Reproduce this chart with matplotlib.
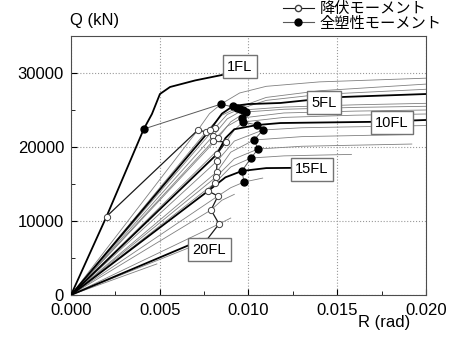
import matplotlib
matplotlib.use("Agg")
import matplotlib.pyplot as plt
from matplotlib.lines import Line2D
from matplotlib.ticker import MultipleLocator, FormatStrFormatter

plt.rcParams['font.family'] = ['Liberation Sans', 'Noto Sans CJK JP']

# story shear Q (kN) vs drift angle R (rad), one curve per floor
floors = list(range(1, 22))
thick_floors = [1, 5, 10, 15, 20]

curve_r = [
    [0, 0.0020, 0.0041, 0.00456, 0.00501, 0.00558, 0.0070, 0.0085],
    [0, 0.00715, 0.0078, 0.00845, 0.0095, 0.0110, 0.0140, 0.0200],
    [0, 0.0076, 0.0085, 0.00935, 0.0110, 0.0140, 0.0200],
    [0, 0.00811, 0.0088, 0.00952, 0.0110, 0.0140, 0.0200],
    [0, 0.00783, 0.0085, 0.00913, 0.0100, 0.0118, 0.0134, 0.0153, 0.0200],
    [0, 0.0080, 0.0088, 0.00969, 0.0120, 0.0160, 0.0200],
    [0, 0.00828, 0.0090, 0.00986, 0.0120, 0.0160, 0.0200],
    [0, 0.0080, 0.0088, 0.00963, 0.0120, 0.0160, 0.0200],
    [0, 0.00873, 0.0092, 0.00969, 0.0120, 0.0160, 0.0200],
    [0, 0.00823, 0.0087, 0.0092, 0.01048, 0.0118, 0.0170, 0.0200],
    [0, 0.00823, 0.0092, 0.01082, 0.0130, 0.0200],
    [0, 0.0082, 0.0090, 0.01031, 0.0130, 0.0193],
    [0, 0.00815, 0.0092, 0.01054, 0.0130, 0.0192],
    [0, 0.00811, 0.0090, 0.01014, 0.0120, 0.0158],
    [0, 0.00772, 0.0087, 0.00963, 0.0110, 0.0135],
    [0, 0.00828, 0.0090, 0.00975, 0.0108],
    [0, 0.00789, 0.0085, 0.0092],
    [0, 0.00834, 0.0090],
    [0, 0.0076],
    [0, 0.0072],
    [0, 0.00484],
]
curve_q = [
    [0, 10600, 22430, 24460, 27160, 28110, 29000, 29730],
    [0, 22300, 24500, 25800, 27300, 28200, 28800, 29300],
    [0, 22030, 24300, 25270, 26700, 27600, 28500],
    [0, 22570, 24400, 25140, 26300, 27100, 27800],
    [0, 22300, 24500, 25540, 25800, 25950, 26350, 26760, 27160],
    [0, 21490, 23800, 25000, 25400, 25700, 25900],
    [0, 21220, 23400, 24730, 25100, 25350, 25500],
    [0, 20800, 22800, 23920, 24600, 24850, 25000],
    [0, 20680, 22300, 23380, 24000, 24300, 24460],
    [0, 19050, 21200, 22400, 22970, 23240, 23400, 23650],
    [0, 18100, 20800, 22300, 22600, 22900],
    [0, 16600, 19300, 20950, 21400, 21700],
    [0, 15900, 18400, 19730, 20100, 20400],
    [0, 15140, 17300, 18510, 18800, 19000],
    [0, 14050, 15900, 16760, 17150, 17200],
    [0, 13380, 14500, 15270, 15800],
    [0, 11490, 12800, 13600],
    [0, 9600, 10400],
    [0, 7300],
    [0, 7300],
    [0, 4200],
]

# yield moment points (floors 1-20) and full plastic moment points (floors 1-16)
yield_r = [0.0020, 0.00715, 0.0076, 0.00811, 0.00783, 0.0080, 0.00828, 0.0080, 0.00873, 0.00823,
           0.00823, 0.0082, 0.00815, 0.00811, 0.00772, 0.00828, 0.00789, 0.00834, 0.0076, 0.0072]
yield_q = [10600, 22300, 22030, 22570, 22300, 21490, 21220, 20800, 20680, 19050,
           18100, 16600, 15900, 15140, 14050, 13380, 11490, 9600, 7300, 7300]
plastic_r = [0.0041, 0.00845, 0.00935, 0.00952, 0.00913, 0.00969, 0.00986, 0.00963, 0.00969, 0.01048,
             0.01082, 0.01031, 0.01054, 0.01014, 0.00963, 0.00975]
plastic_q = [22430, 25800, 25270, 25140, 25540, 25000, 24730, 23920, 23380, 22970,
             22300, 20950, 19730, 18510, 16760, 15270]

label_floors = ["1FL", "5FL", "10FL", "15FL", "20FL"]
label_r = [0.00952, 0.01428, 0.01808, 0.01358, 0.0078]
label_q = [30830, 25980, 23280, 16960, 6120]

fig = plt.figure(figsize=(4.51, 3.38), dpi=100)
ax = fig.add_axes([71 / 451, 1 - 295 / 338, 355 / 451, 259 / 338])

for fl, r, q in zip(floors, curve_r, curve_q):
    if fl in thick_floors:
        ax.plot(r, q, color='black', lw=1.3, zorder=3)
    else:
        ax.plot(r, q, color='0.5', lw=0.6, zorder=2)

ax.plot(yield_r, yield_q, color='0.1', lw=0.9, marker='o', ms=4.5,
        mfc='white', mec='0.25', mew=0.7, zorder=4)
ax.plot(plastic_r, plastic_q, color='0.35', lw=0.7, marker='o', ms=5,
        mfc='black', mec='black', zorder=4)

for txt, r, q in zip(label_floors, label_r, label_q):
    ax.text(r, q, txt, ha='center', va='center', fontsize=10.5, zorder=6,
            bbox=dict(boxstyle='square,pad=0.3', fc='white', ec='0.45', lw=1.0))

ax.set_xlim(0, 0.020)
ax.set_ylim(0, 35000)
ax.xaxis.set_major_locator(MultipleLocator(0.005))
ax.xaxis.set_minor_locator(MultipleLocator(0.0025))
ax.xaxis.set_major_formatter(FormatStrFormatter('%.3f'))
ax.set_yticks([0, 10000, 20000, 30000])
ax.yaxis.set_minor_locator(MultipleLocator(5000))
ax.tick_params(which='both', direction='in', labelsize=12, top=False, right=False)
ax.tick_params(which='major', length=4)
ax.tick_params(which='minor', length=3)
ax.tick_params(axis='x', pad=6)
ax.tick_params(axis='y', pad=5)
ax.grid(True, which='major', color='0.6', ls=':', lw=0.8)
for s in ax.spines.values():
    s.set_color('0.3')

fig.text(95 / 451, 1 - 21 / 338, "Q (kN)", ha='center', va='center', fontsize=12)
fig.text(384 / 451, 1 - 323 / 338, "R (rad)", ha='center', va='center', fontsize=12)

handles = [
    Line2D([], [], color='0.1', lw=0.8, marker='o', ms=4.5, mfc='white', mec='0.25'),
    Line2D([], [], color='0.35', lw=0.8, marker='o', ms=5, mfc='black', mec='black'),
]
fig.legend(handles, ["降伏モーメント", "全塑性モーメント"], loc='upper left',
           bbox_to_anchor=(283 / 451, 1 - 2 / 338), frameon=False, fontsize=11,
           handlelength=2.0, handletextpad=0.4, borderpad=0, borderaxespad=0,
           labelspacing=0.05)

fig.savefig("out.png", dpi=100)
